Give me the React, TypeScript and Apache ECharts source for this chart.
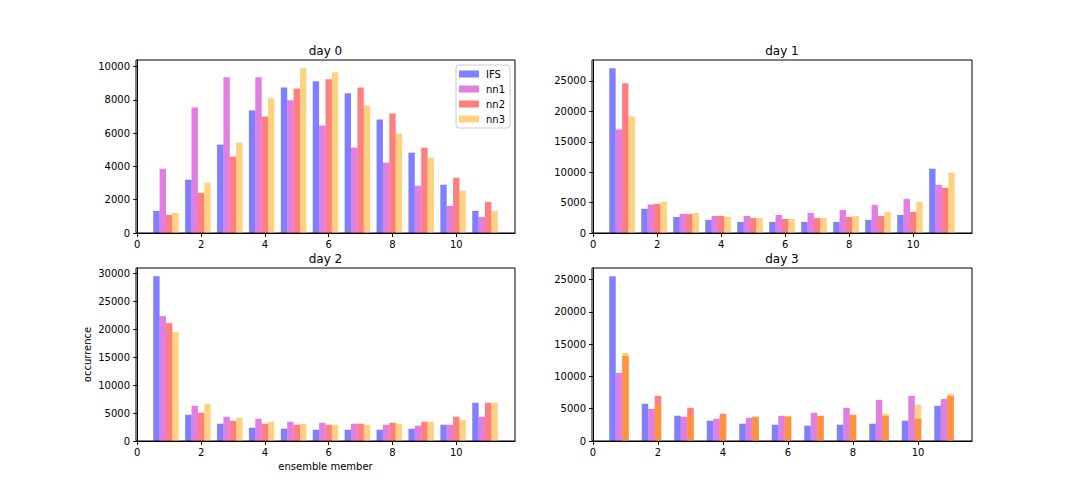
import React, { useEffect, useRef } from "react";
import * as echarts from "echarts";

// ensemble member bins
const MEMBERS = [1, 2, 3, 4, 5, 6, 7, 8, 9, 10, 11];
const SERIES_NAMES = ["IFS", "nn1", "nn2", "nn3"];
const PANEL_TITLES = ["day 0", "day 1", "day 2", "day 3"];
const X_TICKS = [0, 2, 4, 6, 8, 10];
const Y_TICKS_DAY0 = [0, 2000, 4000, 6000, 8000, 10000];
const Y_TICKS_DAY1 = [0, 5000, 10000, 15000, 20000, 25000];
const Y_TICKS_DAY2 = [0, 5000, 10000, 15000, 20000, 25000, 30000];
const Y_TICKS_DAY3 = [0, 5000, 10000, 15000, 20000, 25000];

// day 0
const day0IFS = [1330, 3200, 5310, 7365, 8750, 9115, 8390, 6820, 4830, 2900, 1330];
const day0nn1 = [3860, 7545, 9356, 9356, 7970, 6460, 5130, 4225, 2840, 1630, 965];
const day0nn2 = [1090, 2415, 4590, 7000, 8690, 9235, 8750, 7180, 5130, 3320, 1870];
const day0nn3 = [1210, 3020, 5430, 8090, 9900, 9660, 7665, 5975, 4530, 2535, 1330];
// day 1
const day1IFS = [27090, 3965, 2640, 2150, 1820, 1820, 1820, 1820, 2150, 2970, 10570];
const day1nn1 = [17015, 4680, 3140, 2810, 2810, 2970, 3300, 3800, 4625, 5615, 7930];
const day1nn2 = [24615, 4790, 3140, 2810, 2480, 2310, 2480, 2640, 2810, 3470, 7430];
const day1nn3 = [19160, 5120, 3300, 2640, 2480, 2310, 2480, 2810, 3470, 5120, 9910];
// day 2
const day2IFS = [29520, 4700, 3095, 2380, 2200, 2020, 2020, 2020, 2200, 2920, 6845];
const day2nn1 = [22380, 6310, 4345, 3990, 3450, 3270, 3095, 2920, 2740, 2920, 4345];
const day2nn2 = [21130, 5060, 3630, 3095, 2920, 2920, 3095, 3270, 3450, 4345, 6845];
const day2nn3 = [19520, 6670, 4170, 3450, 3095, 2920, 2920, 3095, 3450, 3810, 6845];
// day 3
const day3IFS = [25510, 5760, 3910, 3140, 2675, 2520, 2365, 2520, 2675, 3140, 5450];
const day3nn1 = [10545, 4990, 3755, 3445, 3600, 3910, 4370, 5145, 6380, 7000, 6530];
const day3nn2 = [13170, 7000, 5145, 4220, 3760, 3755, 3900, 4060, 3910, 3445, 7000];
const day3nn3 = [13630, 5610, 4065, 3755, 3740, 3910, 3910, 4050, 4220, 5610, 7305];

const DAY_DATA = [
  [day0IFS, day0nn1, day0nn2, day0nn3],
  [day1IFS, day1nn1, day1nn2, day1nn3],
  [day2IFS, day2nn1, day2nn2, day2nn3],
  [day3IFS, day3nn1, day3nn2, day3nn3],
];
const Y_TICKS = [Y_TICKS_DAY0, Y_TICKS_DAY1, Y_TICKS_DAY2, Y_TICKS_DAY3];

// styling / layout (not data)
const COLORS = [
  "rgba(0,0,255,0.5)",
  "rgba(191,0,191,0.5)",
  "rgba(255,0,0,0.5)",
  "rgba(255,165,0,0.5)",
];
const SLOTS = [
  [0, 1, 2, 3],
  [0, 1, 2, 3],
  [0, 1, 2, 3],
  [0, 1, 2, 2],
];
const BAR_W = 0.2;
const X_LIMS = [
  [-0.04, 11.84],
  [-0.04, 11.84],
  [-0.04, 11.84],
  [-0.03, 11.66],
];
const GRIDS = [
  { left: 136, top: 60, width: 379, height: 173 },
  { left: 592, top: 60, width: 380, height: 173 },
  { left: 136, top: 268, width: 379, height: 173 },
  { left: 592, top: 268, width: 380, height: 173 },
];
const FONT = "DejaVu Sans";

function makeRender(slot: number, color: string) {
  return (params: any, api: any) => {
    const k = api.value(0);
    const v = api.value(1);
    const x0 = k - 0.5 + slot * BAR_W;
    const tl = api.coord([x0, v]);
    const br = api.coord([x0 + BAR_W, 0]);
    return {
      type: "rect",
      shape: { x: tl[0], y: tl[1], width: br[0] - tl[0], height: br[1] - tl[1] },
      style: { fill: color },
    };
  };
}

export default function App() {
  const ref = useRef<HTMLDivElement>(null);
  useEffect(() => {
    if (!ref.current) return;
    const chart = echarts.init(ref.current, undefined, { renderer: "svg" });

    const grid = GRIDS.map((g) => ({
      ...g,
      show: true,
      borderColor: "#000",
      borderWidth: 1,
      backgroundColor: "transparent",
      containLabel: false,
    }));

    const xAxis = GRIDS.map((g, i) => ({
      type: "value",
      gridIndex: i,
      min: X_LIMS[i][0],
      max: X_LIMS[i][1],
      axisLine: { show: true, onZero: false, lineStyle: { color: "#000", width: 1 } },
      axisTick: {
        show: true,
        inside: false,
        length: 4,
        customValues: X_TICKS,
        lineStyle: { color: "#000", width: 1 },
      },
      axisLabel: {
        show: true,
        customValues: X_TICKS,
        margin: 6,
        fontSize: 10,
        color: "#000",
        fontFamily: FONT,
        formatter: (v: number) => String(v),
      },
      splitLine: { show: false },
      name: i === 2 ? "ensemble member" : "",
      nameLocation: "middle",
      nameGap: 20,
      nameTextStyle: { fontSize: 10, color: "#000", fontFamily: FONT },
    }));

    const yAxis = GRIDS.map((g, i) => {
      const maxVal = Math.max(...DAY_DATA[i].map((s) => Math.max(...s)));
      return {
        type: "value",
        gridIndex: i,
        min: 0,
        max: maxVal * 1.05,
        axisLine: { show: true, lineStyle: { color: "#000", width: 1 } },
        axisTick: {
          show: true,
          inside: false,
          length: 4,
          customValues: Y_TICKS[i],
          lineStyle: { color: "#000", width: 1 },
        },
        axisLabel: {
          show: true,
          customValues: Y_TICKS[i],
          margin: 6,
          fontSize: 10,
          color: "#000",
          fontFamily: FONT,
          formatter: (v: number) => String(v),
        },
        splitLine: { show: false },
        name: i === 2 ? "occurrence" : "",
        nameLocation: "middle",
        nameGap: 44,
        nameRotate: 90,
        nameTextStyle: { fontSize: 10, color: "#000", fontFamily: FONT },
      };
    });

    const series: any[] = [];
    DAY_DATA.forEach((day, i) => {
      day.forEach((vals, s) => {
        series.push({
          type: "custom",
          name: SERIES_NAMES[s],
          xAxisIndex: i,
          yAxisIndex: i,
          data: MEMBERS.map((m, j) => [m, vals[j]]),
          encode: { x: 0, y: 1 },
          itemStyle: { color: COLORS[s] },
          renderItem: makeRender(SLOTS[i][s], COLORS[s]),
        });
      });
    });

    const title = PANEL_TITLES.map((t, i) => ({
      text: t,
      left: GRIDS[i].left + GRIDS[i].width / 2,
      top: GRIDS[i].top - 15,
      textAlign: "center",
      padding: 0,
      textStyle: { fontSize: 12, fontWeight: "normal", color: "#000", fontFamily: FONT },
    }));

    chart.setOption({
      animation: false,
      backgroundColor: "#fff",
      textStyle: { fontFamily: FONT },
      title,
      grid,
      xAxis,
      yAxis,
      series,
      legend: {
        data: SERIES_NAMES.map((n, s) => ({ name: n, icon: "rect", itemStyle: { color: COLORS[s] } })),
        orient: "vertical",
        left: 456,
        top: 65,
        itemWidth: 20,
        itemHeight: 7,
        itemGap: 3,
        padding: [3, 5, 3, 3],
        backgroundColor: "rgba(255,255,255,0.8)",
        borderColor: "#ccc",
        borderWidth: 1,
        borderRadius: 3,
        selectedMode: false,
        textStyle: { fontSize: 10, color: "#000", fontFamily: FONT, lineHeight: 12, padding: [0, 0, 0, 2] },
      },
    });
    return () => chart.dispose();
  }, []);
  return (
    <div
      ref={ref}
      style={{ position: "fixed", left: 0, top: 0, width: 1080, height: 504 }}
    />
  );
}
